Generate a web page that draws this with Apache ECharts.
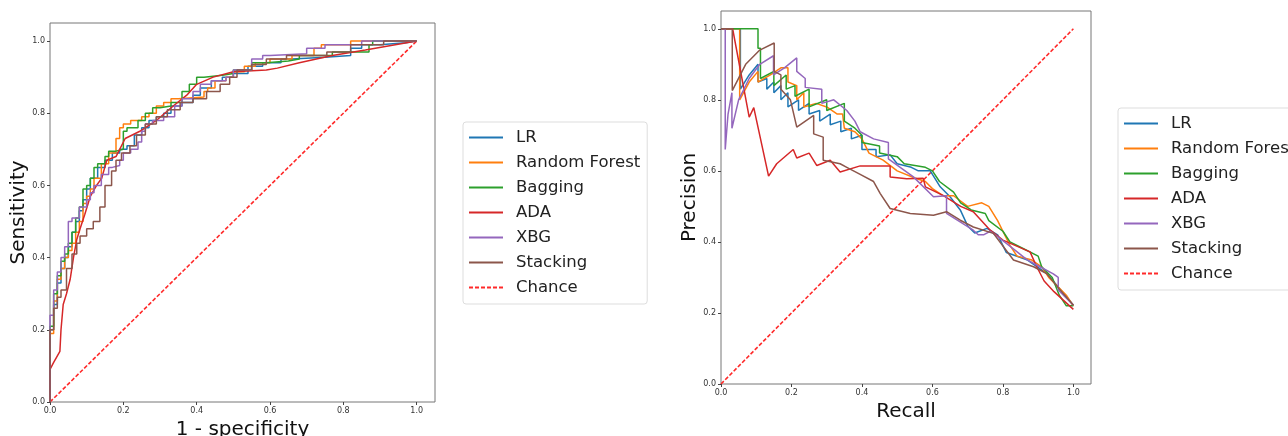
<!DOCTYPE html>
<html>
<head>
<meta charset="utf-8">
<script src="https://cdn.jsdelivr.net/npm/echarts@6/dist/echarts.min.js"></script>
<style>
  html, body { margin: 0; padding: 0; background: #fff; }
  #chart { width: 1288px; height: 436px; }
</style>
</head>
<body>
<div id="chart"></div>
<script>
// ROC curves: [1 - specificity, sensitivity]
const roc_LR = [[0,0],[0,0.15],[0.01,0.2],[0.02,0.27],[0.03,0.33],[0.04,0.37],[0.05,0.4],[0.06,0.43],[0.07,0.47],[0.08,0.5],[0.09,0.53],[0.1,0.56],[0.11,0.59],[0.13,0.62],[0.15,0.65],[0.17,0.67],[0.19,0.69],[0.21,0.7],[0.23,0.71],[0.25,0.74],[0.27,0.76],[0.29,0.78],[0.31,0.79],[0.33,0.8],[0.36,0.82],[0.39,0.83],[0.41,0.85],[0.44,0.87],[0.47,0.89],[0.5,0.9],[0.54,0.91],[0.58,0.93],[0.63,0.94],[0.66,0.95],[0.75,0.955],[0.82,0.96],[0.85,0.98],[0.9,0.99],[0.97,0.995],[1,1]];
const roc_RF = [[0,0],[0,0.12],[0.01,0.19],[0.02,0.28],[0.03,0.34],[0.04,0.37],[0.05,0.4],[0.06,0.42],[0.07,0.44],[0.08,0.47],[0.09,0.5],[0.1,0.55],[0.11,0.57],[0.12,0.59],[0.14,0.62],[0.16,0.66],[0.18,0.69],[0.19,0.73],[0.2,0.76],[0.22,0.77],[0.25,0.78],[0.27,0.79],[0.29,0.8],[0.31,0.82],[0.33,0.83],[0.35,0.84],[0.42,0.845],[0.43,0.86],[0.45,0.87],[0.48,0.89],[0.5,0.9],[0.53,0.915],[0.56,0.93],[0.6,0.94],[0.66,0.95],[0.72,0.96],[0.74,0.98],[0.82,0.99],[0.9,1],[1,1]];
const roc_Bagging = [[0,0],[0,0.15],[0.01,0.21],[0.02,0.3],[0.03,0.35],[0.04,0.39],[0.05,0.41],[0.06,0.44],[0.07,0.47],[0.08,0.51],[0.09,0.54],[0.1,0.59],[0.11,0.6],[0.12,0.62],[0.13,0.65],[0.15,0.66],[0.16,0.68],[0.18,0.695],[0.2,0.7],[0.21,0.75],[0.24,0.76],[0.26,0.78],[0.28,0.8],[0.3,0.815],[0.33,0.82],[0.36,0.83],[0.38,0.86],[0.4,0.88],[0.42,0.9],[0.47,0.905],[0.5,0.91],[0.55,0.92],[0.59,0.94],[0.65,0.945],[0.68,0.95],[0.77,0.96],[0.87,0.97],[0.88,0.99],[0.95,1],[1,1]];
const roc_ADA = [[0,0],[0,0.09],[0.01,0.11],[0.027,0.14],[0.03,0.2],[0.036,0.27],[0.045,0.3],[0.055,0.34],[0.064,0.4],[0.073,0.45],[0.082,0.48],[0.095,0.52],[0.11,0.57],[0.127,0.6],[0.141,0.62],[0.155,0.67],[0.18,0.68],[0.205,0.73],[0.245,0.75],[0.29,0.78],[0.336,0.82],[0.373,0.85],[0.4,0.88],[0.445,0.9],[0.5,0.915],[0.59,0.92],[0.62,0.925],[0.68,0.94],[0.77,0.96],[0.86,0.975],[1,1]];
const roc_XBG = [[0,0],[0,0.16],[0.01,0.24],[0.02,0.31],[0.03,0.36],[0.04,0.4],[0.05,0.43],[0.06,0.5],[0.08,0.51],[0.1,0.54],[0.11,0.56],[0.12,0.58],[0.14,0.6],[0.16,0.63],[0.17,0.65],[0.19,0.655],[0.2,0.67],[0.22,0.69],[0.24,0.7],[0.25,0.72],[0.26,0.75],[0.28,0.77],[0.31,0.78],[0.34,0.79],[0.36,0.82],[0.39,0.84],[0.41,0.86],[0.44,0.88],[0.48,0.89],[0.5,0.9],[0.55,0.92],[0.58,0.95],[0.6,0.96],[0.7,0.965],[0.75,0.98],[0.85,0.99],[0.93,1],[1,1]];
const roc_Stacking = [[0,0],[0,0.15],[0.01,0.2],[0.02,0.26],[0.03,0.29],[0.045,0.31],[0.06,0.37],[0.073,0.41],[0.082,0.44],[0.1,0.46],[0.118,0.48],[0.136,0.5],[0.15,0.54],[0.168,0.6],[0.18,0.64],[0.195,0.67],[0.218,0.69],[0.236,0.71],[0.26,0.74],[0.29,0.77],[0.32,0.79],[0.355,0.81],[0.39,0.83],[0.427,0.84],[0.464,0.86],[0.49,0.88],[0.51,0.9],[0.55,0.92],[0.59,0.935],[0.645,0.95],[0.755,0.96],[0.82,0.97],[0.91,0.99],[0.96,1],[1,1]];

// PR curves: [recall, precision]
const pr_LR = [[0,1],[0.055,1],[0.055,0.83],[0.08,0.87],[0.105,0.9],[0.105,0.85],[0.13,0.86],[0.13,0.83],[0.15,0.85],[0.15,0.82],[0.17,0.84],[0.17,0.8],[0.19,0.82],[0.19,0.78],[0.22,0.8],[0.22,0.77],[0.25,0.79],[0.25,0.76],[0.28,0.77],[0.28,0.74],[0.31,0.76],[0.31,0.73],[0.34,0.74],[0.34,0.71],[0.37,0.72],[0.37,0.69],[0.4,0.7],[0.4,0.66],[0.44,0.66],[0.44,0.64],[0.48,0.645],[0.5,0.62],[0.54,0.61],[0.56,0.6],[0.594,0.6],[0.6,0.59],[0.622,0.555],[0.65,0.527],[0.679,0.49],[0.7,0.445],[0.72,0.425],[0.755,0.438],[0.785,0.42],[0.81,0.37],[0.868,0.35],[0.926,0.31],[0.964,0.265],[1,0.222]];
const pr_RF = [[0,1],[0.053,1],[0.053,0.8],[0.08,0.85],[0.105,0.88],[0.105,0.85],[0.14,0.87],[0.17,0.89],[0.19,0.89],[0.19,0.85],[0.215,0.84],[0.215,0.8],[0.235,0.82],[0.235,0.78],[0.27,0.79],[0.3,0.78],[0.33,0.76],[0.345,0.76],[0.35,0.72],[0.38,0.71],[0.4,0.69],[0.42,0.65],[0.44,0.64],[0.46,0.63],[0.5,0.6],[0.55,0.58],[0.58,0.57],[0.6,0.55],[0.63,0.53],[0.66,0.53],[0.7,0.5],[0.74,0.51],[0.76,0.5],[0.785,0.46],[0.8,0.43],[0.82,0.39],[0.84,0.36],[0.88,0.35],[0.91,0.33],[0.93,0.3],[0.96,0.27],[0.98,0.25],[1,0.22]];
const pr_Bagging = [[0,1],[0.105,1],[0.105,0.945],[0.112,0.945],[0.112,0.86],[0.15,0.88],[0.15,0.84],[0.185,0.87],[0.185,0.83],[0.21,0.84],[0.21,0.81],[0.25,0.83],[0.25,0.78],[0.3,0.8],[0.3,0.77],[0.35,0.79],[0.35,0.74],[0.38,0.72],[0.4,0.7],[0.4,0.68],[0.45,0.67],[0.45,0.65],[0.5,0.64],[0.52,0.62],[0.58,0.61],[0.6,0.6],[0.62,0.57],[0.66,0.54],[0.68,0.51],[0.71,0.49],[0.75,0.48],[0.76,0.46],[0.8,0.43],[0.82,0.4],[0.86,0.38],[0.9,0.36],[0.91,0.33],[0.94,0.3],[0.96,0.25],[0.98,0.22],[1,0.22]];
const pr_ADA = [[0,1],[0.033,1],[0.08,0.751],[0.093,0.778],[0.135,0.585],[0.158,0.62],[0.205,0.66],[0.215,0.636],[0.25,0.65],[0.272,0.615],[0.31,0.63],[0.338,0.597],[0.395,0.614],[0.48,0.614],[0.48,0.583],[0.527,0.578],[0.574,0.579],[0.58,0.555],[0.63,0.531],[0.68,0.5],[0.716,0.485],[0.764,0.433],[0.8,0.405],[0.877,0.372],[0.896,0.33],[0.917,0.29],[0.945,0.26],[1,0.21]];
const pr_XBG = [[0,1],[0.012,1],[0.012,0.66],[0.02,0.76],[0.031,0.82],[0.031,0.72],[0.05,0.8],[0.08,0.86],[0.11,0.9],[0.149,0.924],[0.149,0.87],[0.18,0.89],[0.215,0.918],[0.215,0.88],[0.239,0.86],[0.239,0.835],[0.286,0.83],[0.286,0.79],[0.32,0.8],[0.357,0.77],[0.38,0.74],[0.395,0.71],[0.433,0.69],[0.475,0.68],[0.475,0.634],[0.546,0.583],[0.603,0.527],[0.64,0.53],[0.64,0.48],[0.716,0.433],[0.73,0.42],[0.745,0.42],[0.764,0.43],[0.81,0.396],[0.868,0.35],[0.905,0.33],[0.943,0.31],[0.957,0.3],[0.957,0.265],[1,0.222]];
const pr_Stacking = [[0,1],[0.032,1],[0.032,0.826],[0.07,0.9],[0.11,0.94],[0.151,0.96],[0.151,0.88],[0.17,0.87],[0.17,0.83],[0.197,0.8],[0.215,0.723],[0.263,0.756],[0.263,0.704],[0.29,0.695],[0.29,0.63],[0.338,0.62],[0.357,0.61],[0.395,0.59],[0.433,0.57],[0.452,0.536],[0.48,0.494],[0.537,0.48],[0.603,0.475],[0.64,0.485],[0.679,0.461],[0.716,0.442],[0.773,0.424],[0.83,0.349],[0.887,0.33],[0.924,0.311],[0.962,0.265],[1,0.222]];

const chance = [[0,0],[1,1]];
const names = ['LR', 'Random Forest', 'Bagging', 'ADA', 'XBG', 'Stacking', 'Chance'];
const colors = ['#1f77b4', '#ff7f0e', '#2ca02c', '#d62728', '#9467bd', '#8c564b', '#ff2a2a'];
const tickValues = [0, 0.2, 0.4, 0.6, 0.8, 1.0];

const rocData = [roc_LR, roc_RF, roc_Bagging, roc_ADA, roc_XBG, roc_Stacking, chance];
const prData = [pr_LR, pr_RF, pr_Bagging, pr_ADA, pr_XBG, pr_Stacking, chance];

function axis(gridIndex, name, gap) {
  return {
    gridIndex: gridIndex,
    type: 'value',
    min: 0,
    max: 1.05,
    interval: 0.2,
    name: name,
    nameLocation: 'middle',
    nameGap: gap,
    nameTextStyle: { fontSize: 20, color: '#111' },
    axisLine: { show: false },
    axisTick: { show: true, length: 3, lineStyle: { color: '#444' } },
    splitLine: { show: false },
    axisLabel: {
      fontSize: 8, color: '#333', margin: 5,
      showMaxLabel: false,
      formatter: v => tickValues.some(t => Math.abs(t - v) < 1e-6) ? v.toFixed(1) : ''
    }
  };
}

function makeSeries(list, xi) {
  return list.map((d, i) => ({
    name: names[i],
    type: 'line',
    xAxisIndex: xi,
    yAxisIndex: xi,
    data: d,
    symbol: 'none',
    step: (xi === 0 && i !== 3 && i !== 6) ? 'start' : false,
    lineStyle: i === 6
      ? { color: colors[i], width: 1.6, type: [4, 2] }
      : { color: colors[i], width: 1.5 },
    itemStyle: { color: colors[i] },
    z: i === 6 ? 1 : 2,
    animation: false
  }));
}

function legend(left, top) {
  return {
    data: names,
    orient: 'vertical',
    left: left,
    top: top,
    icon: 'inherit',
    itemWidth: 34,
    itemHeight: 14,
    itemGap: 8,
    padding: [7, 7, 8, 5],
    borderColor: '#ddd',
    borderWidth: 1,
    borderRadius: 3,
    itemStyle: { opacity: 0 },
    textStyle: { fontSize: 16.5, color: '#222', padding: [0, 0, 0, 8] }
  };
}

const chart = echarts.init(document.getElementById('chart'));
const option = {
  backgroundColor: '#fff',
  animation: false,
  textStyle: { fontFamily: 'DejaVu Sans' },
  grid: [
    { left: 50, top: 23, width: 385, height: 379, show: true, borderColor: '#777', borderWidth: 1, containLabel: false, outerBoundsMode: 'none' },
    { left: 721, top: 11, width: 370, height: 373, show: true, borderColor: '#777', borderWidth: 1, containLabel: false, outerBoundsMode: 'none' }
  ],
  xAxis: [axis(0, '1 - specificity', 7), axis(1, 'Recall', 12)],
  yAxis: [axis(0, 'Sensitivity', 17), axis(1, 'Precision', 16)],
  legend: [legend(463, 122), legend(1118, 108)],
  series: makeSeries(rocData, 0).concat(makeSeries(prData, 1))
};
chart.setOption(option, true);
</script>
</body>
</html>
